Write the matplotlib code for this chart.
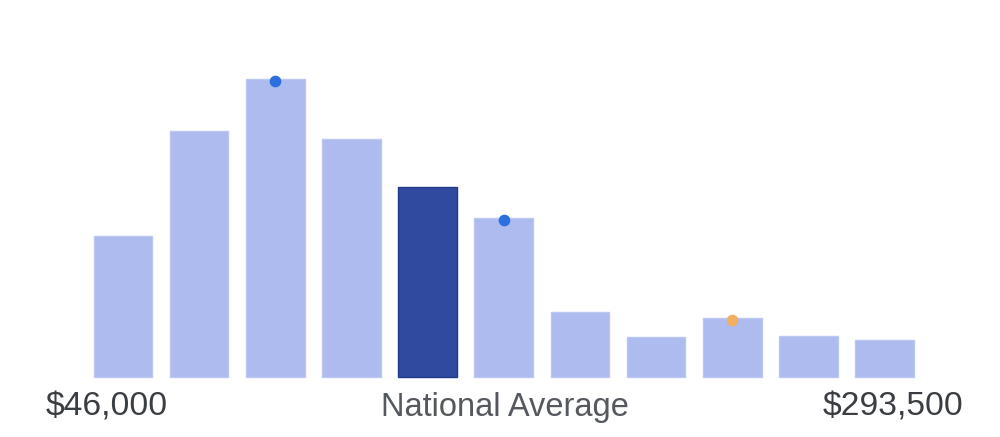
import matplotlib.pyplot as plt
import numpy as np

plt.rcParams['font.family'] = ['Liberation Sans', 'DejaVu Sans']

# bar heights (relative units)
heights = [140.7, 245.7, 297.4, 237.7, 190.0, 158.4, 65.0, 39.4, 59.0, 40.7, 36.7]
highlight = 4                      # national average bin
dot_bins = [2, 5, 8]
dot_colors = ['#2d6fdc', '#2d6fdc', '#f2ae62']

low_label = '$46,000'
mid_label = 'National Average'
high_label = '$293,500'

x = np.arange(len(heights))
colors = ['#adbbee'] * len(heights)
edges = ['#bcc8f2'] * len(heights)
colors[highlight] = '#2f4a9e'
edges[highlight] = '#23398a'

fig = plt.figure(figsize=(10, 4.37), dpi=100)
ax = fig.add_axes([0, 0, 1, 1])
ax.bar(x, heights, width=0.77, color=colors, edgecolor=edges, linewidth=1)

for i, c in zip(dot_bins, dot_colors):
    ax.plot(x[i], heights[i] - 2, 'o', color=c, markersize=8.4, markeredgewidth=0, zorder=3)

ax.text(-0.21, -30.5, low_label, ha='center', va='center', fontsize=24.2, color='#3a3d42')
ax.text(5.02, -30.5, mid_label, ha='center', va='center', fontsize=23.5, color='#55595f')
ax.text(10.11, -30.5, high_label, ha='center', va='center', fontsize=24.2, color='#3a3d42')

ax.set_xlim(-123 / 76.15, (1000 - 123) / 76.15)
ax.set_ylim(-60.3, 376.7)
ax.axis('off')

plt.savefig('out.png', dpi=100)
